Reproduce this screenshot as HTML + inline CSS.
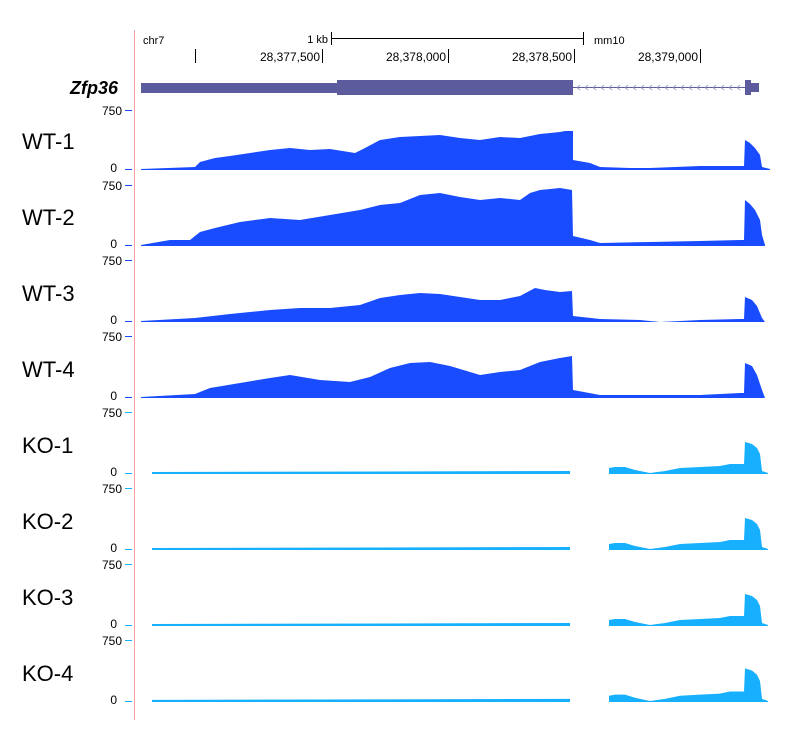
<!DOCTYPE html>
<html><head><meta charset="utf-8"><style>
body{margin:0;background:#fff;}
svg text{font-family:"Liberation Sans",Arial,sans-serif;}
</style></head><body>
<svg width="800" height="750" xmlns="http://www.w3.org/2000/svg">
<rect width="800" height="750" fill="#fff"/>
<line x1="134.5" y1="30" x2="134.5" y2="720" stroke="#f4a0a0" stroke-width="1"/>
<!-- ruler -->
<text x="143" y="44" font-size="11" fill="#000">chr7</text>
<text x="328" y="43" font-size="11" fill="#000" text-anchor="end">1 kb</text>
<line x1="331" y1="38.5" x2="583" y2="38.5" stroke="#000"/>
<line x1="331.5" y1="32" x2="331.5" y2="45" stroke="#000"/>
<line x1="583.5" y1="32" x2="583.5" y2="45" stroke="#000"/>
<text x="594" y="44" font-size="11" fill="#000">mm10</text>
<g stroke="#000"><line x1="195.5" y1="49" x2="195.5" y2="63"/><line x1="322.5" y1="49" x2="322.5" y2="63"/><line x1="448.5" y1="49" x2="448.5" y2="63"/><line x1="574.5" y1="49" x2="574.5" y2="63"/><line x1="700.5" y1="49" x2="700.5" y2="63"/></g>
<g font-size="12" fill="#000" text-anchor="end"><text x="320" y="61">28,377,500</text><text x="446" y="61">28,378,000</text><text x="572" y="61">28,378,500</text><text x="698" y="61">28,379,000</text></g>
<!-- gene -->
<text x="118" y="94" font-size="18" font-weight="bold" font-style="italic" text-anchor="end">Zfp36</text>
<rect x="141" y="83" width="197" height="10" fill="#5b5b9e"/>
<rect x="337" y="80" width="236" height="15" fill="#5b5b9e"/>
<line x1="573" y1="87.5" x2="745" y2="87.5" stroke="#5b5b9e"/>
<g fill="none" stroke="#8888bb" stroke-width="0.8">
<path d="M580 85l-3 2.5 3 2.5M588 85l-3 2.5 3 2.5M596 85l-3 2.5 3 2.5M604 85l-3 2.5 3 2.5M612 85l-3 2.5 3 2.5M620 85l-3 2.5 3 2.5M628 85l-3 2.5 3 2.5M636 85l-3 2.5 3 2.5M644 85l-3 2.5 3 2.5M652 85l-3 2.5 3 2.5M660 85l-3 2.5 3 2.5M668 85l-3 2.5 3 2.5M676 85l-3 2.5 3 2.5M684 85l-3 2.5 3 2.5M692 85l-3 2.5 3 2.5M700 85l-3 2.5 3 2.5M708 85l-3 2.5 3 2.5M716 85l-3 2.5 3 2.5M724 85l-3 2.5 3 2.5M732 85l-3 2.5 3 2.5M740 85l-3 2.5 3 2.5"/>
</g>
<rect x="745" y="80" width="6" height="15" fill="#5b5b9e"/>
<rect x="750" y="83" width="9" height="9" fill="#5b5b9e"/>

<defs>
<polygon id="wt1" points="141,170 141,169 195,167 200,162 215,158 230,156 250,153 270,150 290,148 310,150 330,149 355,153 365,148 380,140 400,137 420,136 440,135 460,138 480,140 500,137 520,138 540,134 560,132 565,131 572,131 573,131 573,160 590,163 600,167 630,168 650,168 700,166 740,166 744,166 745,140 750,143 755,148 760,155 762,167 770,169 770,170"/>
<polygon id="wt2" points="141,246 141,245 170,240 190,240 200,232 215,228 240,222 270,218 300,220 330,215 360,210 380,205 400,203 420,195 440,193 460,197 480,200 500,198 520,200 530,193 540,190 560,188 572,190 573,236 590,240 600,243 650,242 700,241 740,240 744,240 745,200 750,204 755,210 760,220 762,235 765,245 765,246"/>
<polygon id="wt3" points="141,322 141,321 195,318 230,314 270,310 300,308 330,308 360,305 380,298 400,295 420,293 440,294 460,297 480,300 500,300 520,296 535,288 545,290 560,292 572,291 573,316 600,319 640,320 660,322 700,320 740,319 744,319 745,297 752,300 757,306 762,318 765,322"/>
<polygon id="wt4" points="141,398 141,397 195,394 210,388 240,383 270,378 290,375 320,380 350,382 370,377 390,368 410,363 430,362 450,366 480,375 500,372 520,370 540,362 560,358 572,356 573,390 600,395 650,395 700,395 740,393 744,393 745,363 752,366 757,375 762,390 765,398"/>
<polygon id="ko" points="152,0 152,-2 570,-3 570,0 609,0 609,-6 615,-7 625,-7 635,-4 650,-1 665,-3 680,-6 700,-7 720,-8 730,-10 743,-10 744,-10 745,-32 752,-30 757,-26 760,-20 762,-3 768,-1 768,0"/>
</defs>
<g fill="#1a4cff"><use href="#wt1"/><use href="#wt2"/><use href="#wt3"/><use href="#wt4"/></g>
<g fill="#17b0ff">
<use href="#ko" transform="translate(0,474)"/>
<use href="#ko" transform="translate(0,550)"/>
<use href="#ko" transform="translate(0,626)"/>
<use href="#ko" transform="translate(0,702) scale(1,1.05)"/>
</g>
<!-- track labels & axes -->
<g font-size="22" fill="#000">
<text x="22" y="149">WT-1</text><text x="22" y="225">WT-2</text><text x="22" y="301">WT-3</text><text x="22" y="377">WT-4</text>
<text x="22" y="453">KO-1</text><text x="22" y="529">KO-2</text><text x="22" y="605">KO-3</text><text x="22" y="681">KO-4</text>
</g>
<g font-size="12" fill="#000" text-anchor="end">
<text x="122" y="115">750</text><text x="117" y="172">0</text>
<text x="122" y="190">750</text><text x="117" y="248">0</text>
<text x="122" y="265">750</text><text x="117" y="324">0</text>
<text x="122" y="341">750</text><text x="117" y="400">0</text>
<text x="122" y="417">750</text><text x="117" y="476">0</text>
<text x="122" y="493">750</text><text x="117" y="552">0</text>
<text x="122" y="569">750</text><text x="117" y="628">0</text>
<text x="122" y="645">750</text><text x="117" y="704">0</text>
</g>
<g stroke="#1a4cff" stroke-width="1">
<line x1="125" y1="110.5" x2="132" y2="110.5"/><line x1="125" y1="169.5" x2="132" y2="169.5"/>
<line x1="125" y1="185.5" x2="132" y2="185.5"/><line x1="125" y1="245.5" x2="132" y2="245.5"/>
<line x1="125" y1="260.5" x2="132" y2="260.5"/><line x1="125" y1="321.5" x2="132" y2="321.5"/>
<line x1="125" y1="336.5" x2="132" y2="336.5"/><line x1="125" y1="397.5" x2="132" y2="397.5"/>
</g>
<g stroke="#17b0ff" stroke-width="1">
<line x1="125" y1="412.5" x2="132" y2="412.5"/><line x1="125" y1="473.5" x2="132" y2="473.5"/>
<line x1="125" y1="488.5" x2="132" y2="488.5"/><line x1="125" y1="549.5" x2="132" y2="549.5"/>
<line x1="125" y1="564.5" x2="132" y2="564.5"/><line x1="125" y1="625.5" x2="132" y2="625.5"/>
<line x1="125" y1="640.5" x2="132" y2="640.5"/><line x1="125" y1="701.5" x2="132" y2="701.5"/>
</g>
</svg>
</body></html>
